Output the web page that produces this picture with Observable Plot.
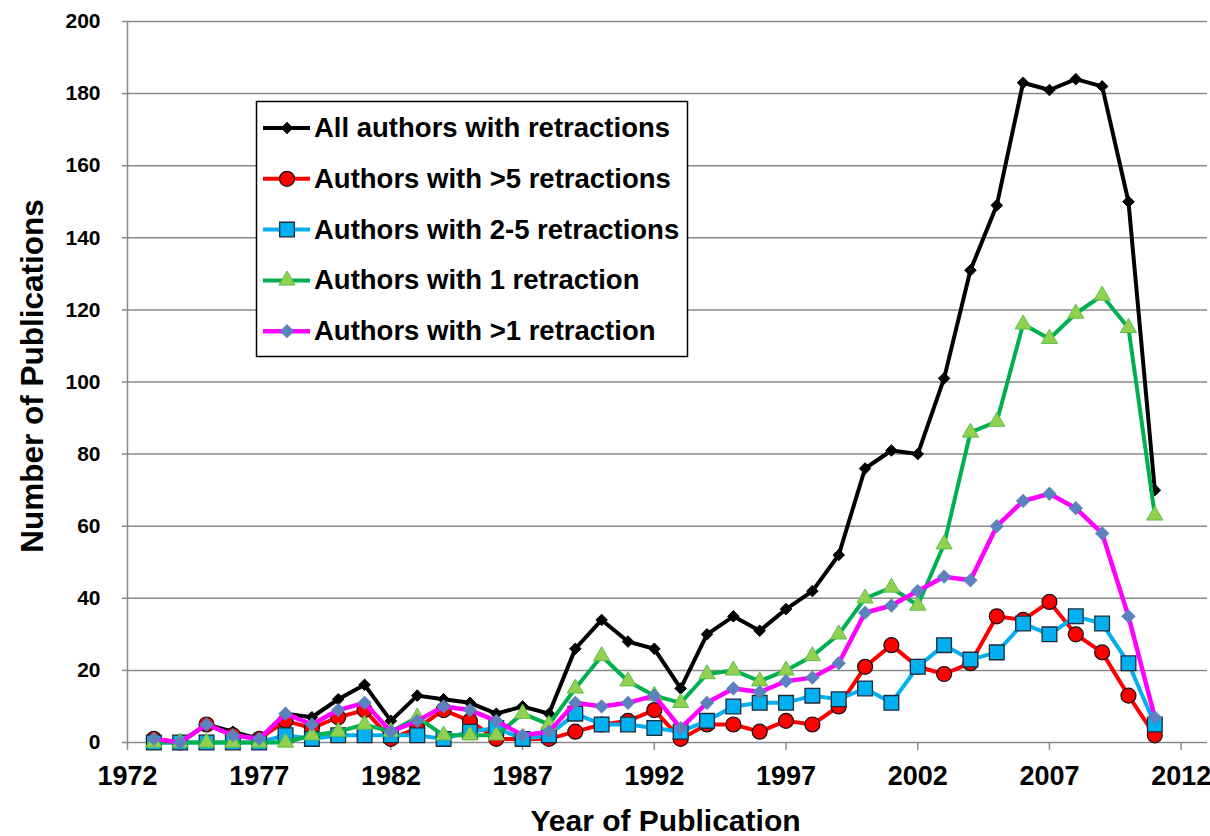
<!DOCTYPE html>
<html><head><meta charset="utf-8">
<script src="https://cdn.jsdelivr.net/npm/d3@7"></script>
<script src="https://cdn.jsdelivr.net/npm/@observablehq/plot@0.6"></script>
<style>
body{margin:0;background:#fff;}
#wrap{position:relative;width:1210px;height:836px;overflow:hidden;background:#fff;}
#legend{position:absolute;left:0;top:0;}
</style></head><body><div id="wrap"></div>
<script>
const years = [1973,1974,1975,1976,1977,1978,1979,1980,1981,1982,
  1983,1984,1985,1986,1987,1988,1989,1990,1991,1992,
  1993,1994,1995,1996,1997,1998,1999,2000,2001,2002,
  2003,2004,2005,2006,2007,2008,2009,2010,2011];
const allAuthors = [1,0,5,3,1,8,7,12,16,6, 13,12,11,8,10,8,26,34,28,26, 15,30,35,31,37,42,52,76,81,80, 101,131,149,183,181,184,182,150,70];
const moreThan5  = [1,0,5,2,1,6,4,7,9,1, 4,9,6,1,1,1,3,5,6,9, 1,5,5,3,6,5,10,21,27,21, 19,22,35,34,39,30,25,13,2];
const twoToFive  = [0,0,0,0,0,2,1,2,2,2, 2,1,3,4,1,2,8,5,5,4, 3,6,10,11,11,13,12,15,11,21, 27,23,25,33,30,35,33,22,5];
const oneRetr    = [0,0,0,0,0,0,2,3,5,3, 7,2,2,2,8,5,15,24,17,13, 11,19,20,17,20,24,30,40,43,38, 55,86,89,116,112,119,124,115,63];
const moreThan1  = [1,0,5,2,1,8,5,9,11,3, 6,10,9,6,2,3,11,10,11,13, 4,11,15,14,17,18,22,36,38,42, 46,45,60,67,69,65,58,35,7];
const seriesNames = ["All authors with retractions","Authors with >5 retractions","Authors with 2-5 retractions","Authors with 1 retraction","Authors with >1 retraction"];
const xTicks = [1972,1977,1982,1987,1992,1997,2002,2007,2012];
const yTicks = [0,20,40,60,80,100,120,140,160,180,200];

const styles = [
  {values: allAuthors, line:"#000000", symbol:"diamond2", fill:"#000000", stroke:"#000000", r:5.2, sw:1, lw:4},
  {values: moreThan5, line:"#FF0000", symbol:"circle", fill:"#FF0000", stroke:"#111111", r:7.5, sw:1.2, lw:4},
  {values: twoToFive, line:"#00B0F0", symbol:"square", fill:"#00B0F0", stroke:"#1e2a38", r:8.3, sw:1.3, lw:4},
  {values: oneRetr, line:"#00B050", symbol:"triangle", fill:"#92D050", stroke:"#5cbf4a", r:6, sw:1, lw:4},
  {values: moreThan1, line:"#FF00FF", symbol:"diamond2", fill:"#5b82bc", stroke:"#5b82bc", r:6.2, sw:0.5, lw:4.5}
];

const seriesMarks = styles.flatMap((s, k) => {
  const data = years.map((y, i) => ({year: y, value: s.values[i], series: seriesNames[k]}));
  return [
    Plot.line(data, {x: "year", y: "value", stroke: s.line, strokeWidth: s.lw, strokeLinejoin: "round"}),
    Plot.dot(data, {x: "year", y: "value", symbol: s.symbol, r: s.r, fill: s.fill, stroke: s.stroke, strokeWidth: s.sw})
  ];
});

const chart = Plot.plot({
  width: 1210, height: 836,
  marginLeft: 127, marginRight: 3, marginTop: 21, marginBottom: 94,
  x: {domain: [1972, 2013]},
  y: {domain: [0, 200]},
  style: {fontFamily: "'Liberation Sans', Arial, sans-serif", background: "#fff", color: "#000"},
  marks: [
    Plot.gridY(yTicks, {stroke: "#8a8a8a", strokeOpacity: 1, strokeWidth: 1.5}),
    Plot.ruleX([1972], {stroke: "#8a8a8a", strokeWidth: 1.5}),
    Plot.axisY(yTicks, {tickSize: 5, tickPadding: 22, fontSize: 21, fontWeight: "bold", stroke: "#8a8a8a", strokeWidth: 1.5, fill: "#000", label: null}),
    Plot.axisX(xTicks, {tickSize: 8, tickPadding: 15, fontSize: 27, fontFamily: "'Liberation Sans Narrow', 'Liberation Sans', sans-serif", fontWeight: "bold", stroke: "#8a8a8a", strokeWidth: 1.5, fill: "#000", label: null, tickFormat: d => String(d)}),
    ...seriesMarks,
    Plot.text(["Year of Publication"], {frameAnchor: "bottom", lineAnchor: "bottom", textAnchor: "middle", dy: 88, dx: -2, fontSize: 30, fontWeight: "bold", fill: "#000"}),
    Plot.text(["Number of Publications"], {frameAnchor: "left", lineAnchor: "bottom", textAnchor: "middle", rotate: -90, dx: -85, dy: -6, fontSize: 31.5, fontWeight: "bold", fill: "#000"})
  ]
});
const wrap = document.getElementById("wrap");
wrap.appendChild(chart);

// Legend overlay
const svg = d3.select(wrap).append("svg").attr("id", "legend").attr("width", 1210).attr("height", 836);
svg.append("rect").attr("x", 256.5).attr("y", 101.5).attr("width", 431).attr("height", 255)
  .attr("fill", "#fff").attr("stroke", "#000").attr("stroke-width", 1.5);
const symMap = {diamond2: d3.symbolDiamond2, circle: d3.symbolCircle, square: d3.symbolSquare, triangle: d3.symbolTriangle};
styles.forEach((s, i) => {
  const base = 137 + i * 50.8;
  const cy = base - 9;
  const g = svg.append("g");
  g.append("line").attr("x1", 263).attr("x2", 310).attr("y1", cy).attr("y2", cy)
    .attr("stroke", s.line).attr("stroke-width", s.lw);
  g.append("path").attr("transform", `translate(287,${cy})`)
    .attr("d", d3.symbol(symMap[s.symbol], Math.PI * s.r * s.r)())
    .attr("fill", s.fill).attr("stroke", s.stroke).attr("stroke-width", s.sw);
  g.append("text").attr("x", 314).attr("y", base).text(seriesNames[i])
    .attr("font-family", "'Liberation Sans', Arial, sans-serif").attr("font-weight", "bold")
    .attr("font-size", 27.5).attr("fill", "#000");
});
</script></body></html>
